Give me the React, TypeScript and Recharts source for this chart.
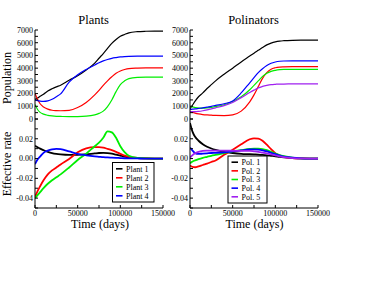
import React from 'react';
import { LineChart, Line, XAxis, YAxis } from 'recharts';

const times = [0, 3000, 6000, 10000, 15000, 20000, 25000, 30000, 40000, 50000, 60000, 70000, 75000, 80000, 85000, 90000, 95000, 100000, 105000, 110000, 120000, 130000, 140000, 150000];

const plantNames = ['Plant 1', 'Plant 2', 'Plant 3', 'Plant 4'];
const polNames = ['Pol. 1', 'Pol. 2', 'Pol. 3', 'Pol. 4', 'Pol. 5'];
const plantColors = ['#000000', '#ff0000', '#00ee00', '#0000ff'];
const polColors = ['#000000', '#ff0000', '#00ee00', '#0000ff', '#a020f0'];

const plant1Pop = [1550, 1650, 1780, 1950, 2200, 2380, 2530, 2660, 3050, 3400, 3850, 4400, 4780, 5150, 5550, 5950, 6250, 6500, 6650, 6780, 6870, 6900, 6910, 6910];
const plant2Pop = [2000, 1550, 1200, 950, 780, 690, 660, 650, 680, 900, 1300, 1900, 2250, 2650, 3000, 3320, 3600, 3780, 3890, 3960, 4000, 4020, 4020, 4020];
const plant3Pop = [1150, 750, 520, 380, 290, 240, 210, 200, 185, 190, 220, 330, 440, 620, 980, 1500, 2150, 2700, 3000, 3180, 3280, 3300, 3300, 3300];
const plant4Pop = [1500, 1440, 1400, 1380, 1420, 1550, 1750, 1980, 2900, 3480, 3900, 4250, 4430, 4570, 4680, 4770, 4830, 4880, 4910, 4930, 4940, 4940, 4940, 4940];

const pol1Pop = [800, 1100, 1400, 1750, 2050, 2400, 2700, 3000, 3520, 4000, 4490, 4950, 5180, 5400, 5620, 5830, 5970, 6070, 6130, 6160, 6190, 6200, 6200, 6200];
const pol2Pop = [600, 520, 460, 400, 350, 320, 300, 280, 270, 330, 620, 1350, 1900, 2550, 3200, 3650, 3920, 4030, 4080, 4100, 4120, 4120, 4120, 4120];
const pol3Pop = [1000, 950, 900, 860, 860, 880, 920, 980, 1120, 1380, 1750, 2300, 2650, 3000, 3350, 3600, 3750, 3830, 3880, 3900, 3910, 3910, 3910, 3910];
const pol4Pop = [750, 770, 790, 830, 880, 940, 1000, 1070, 1200, 1420, 2050, 2850, 3250, 3650, 3950, 4200, 4380, 4480, 4540, 4560, 4570, 4570, 4570, 4570];
const pol5Pop = [580, 580, 580, 600, 650, 720, 800, 880, 1050, 1300, 1680, 2080, 2270, 2450, 2560, 2640, 2700, 2730, 2750, 2750, 2760, 2760, 2760, 2760];

const plant1Rate = [0.013, 0.0115, 0.010, 0.0085, 0.0068, 0.0055, 0.0047, 0.0042, 0.0037, 0.0037, 0.0043, 0.0052, 0.0056, 0.0057, 0.0055, 0.005, 0.004, 0.003, 0.002, 0.0012, 0.0004, 0.0001, 0, 0];
const plant2Rate = [-0.039, -0.033, -0.028, -0.022, -0.016, -0.012, -0.009, -0.006, -0.0005, 0.0063, 0.0104, 0.0115, 0.0115, 0.011, 0.0098, 0.0085, 0.0068, 0.0048, 0.003, 0.0018, 0.0006, 0.0002, 0, 0];
const plant3Rate = [-0.040, -0.037, -0.034, -0.030, -0.0255, -0.022, -0.019, -0.016, -0.009, -0.0015, 0.005, 0.0125, 0.016, 0.021, 0.0275, 0.0265, 0.021, 0.0125, 0.0065, 0.0028, 0.0006, 0.0001, 0, 0];
const plant4Rate = [-0.0057, -0.001, 0.002, 0.0058, 0.008, 0.0093, 0.0098, 0.0095, 0.0072, 0.0048, 0.0033, 0.0022, 0.0018, 0.0014, 0.0011, 0.0009, 0.0007, 0.0005, 0.0003, 0.0002, 0.0001, 0, 0, 0];

const pol1Rate = [0.036, 0.027, 0.022, 0.018, 0.0145, 0.012, 0.0102, 0.0088, 0.0068, 0.0056, 0.0048, 0.0044, 0.0042, 0.004, 0.0037, 0.0033, 0.0028, 0.0023, 0.0017, 0.0012, 0.0005, 0.0001, 0, 0];
const pol2Rate = [-0.007, -0.0085, -0.0088, -0.008, -0.0065, -0.0052, -0.0035, -0.002, 0.0038, 0.009, 0.0145, 0.0195, 0.0205, 0.0202, 0.018, 0.014, 0.0095, 0.0054, 0.0032, 0.0018, 0.0005, 0.0001, 0, 0];
const pol3Rate = [-0.0047, -0.003, -0.0018, -0.0005, 0.0008, 0.0018, 0.0028, 0.0037, 0.0055, 0.0072, 0.0085, 0.0097, 0.0101, 0.01, 0.0096, 0.0085, 0.0068, 0.005, 0.0035, 0.0024, 0.0009, 0.0002, 0, 0];
const pol4Rate = [0.011, 0.008, 0.0055, 0.0047, 0.005, 0.0053, 0.0056, 0.0058, 0.0063, 0.0072, 0.0082, 0.0092, 0.0093, 0.009, 0.0083, 0.0072, 0.0058, 0.0044, 0.003, 0.002, 0.0008, 0.0002, 0, 0];
const pol5Rate = [0.001, 0.0035, 0.0054, 0.0068, 0.0077, 0.008, 0.0081, 0.0081, 0.008, 0.0079, 0.0078, 0.0077, 0.0073, 0.0068, 0.006, 0.0052, 0.0042, 0.0032, 0.0022, 0.0014, 0.0005, 0.0001, 0, 0];

const xTicks = [0, 25000, 50000, 75000, 100000, 125000, 150000];
const popTicks = [0, 500, 1000, 1500, 2000, 2500, 3000, 3500, 4000, 4500, 5000, 5500, 6000, 6500, 7000];
const rateTicks = [-0.05, -0.04, -0.03, -0.02, -0.01, 0, 0.01, 0.02, 0.03, 0.04];

const FONT = '"Liberation Serif", "Times New Roman", serif';

function buildData(series: number[][]) {
  return times.map((t, i) => {
    const row: Record<string, number> = { t };
    series.forEach((s, k) => { row['s' + k] = s[i]; });
    return row;
  });
}

const plantPopData = buildData([plant1Pop, plant2Pop, plant3Pop, plant4Pop]);
const polPopData = buildData([pol1Pop, pol2Pop, pol3Pop, pol4Pop, pol5Pop]);
const plantRateData = buildData([plant1Rate, plant2Rate, plant3Rate, plant4Rate]);
const polRateData = buildData([pol1Rate, pol2Rate, pol3Rate, pol4Rate, pol5Rate]);

const fmtX = (v: number) => (v % 50000 === 0 ? String(v) : '');
const fmtPop = (v: number) => (v % 1000 === 0 ? String(v) : '');
const fmtRate = (v: number) => {
  const k = Math.round(v * 100);
  if (k % 2 !== 0 || k <= -5 || k >= 4) return '';
  return (k / 100).toFixed(2);
};
const blank = () => '';

type PanelProps = {
  left: number;
  top: number;
  height: number;
  marginTop: number;
  marginBottom: number;
  data: Record<string, number>[];
  colors: string[];
  yDomain: [number, number];
  yTicks: number[];
  yFmt: (v: number) => string;
  xLabels: boolean;
  strokeWidth: number;
};

function Panel(p: PanelProps) {
  const tickStyle = { fontSize: 8, fontFamily: FONT, fill: '#000', stroke: 'none' };
  const axisLine = { stroke: '#000', strokeWidth: 1 };
  return (
    <div style={{ position: 'absolute', left: p.left, top: p.top }}>
      <LineChart
        width={185}
        height={p.height}
        data={p.data}
        margin={{ top: p.marginTop, right: 22, left: 0, bottom: p.marginBottom }}
      >
        <XAxis
          xAxisId="b"
          dataKey="t"
          type="number"
          domain={[0, 150000]}
          ticks={xTicks}
          interval={0}
          orientation="bottom"
          height={p.xLabels ? 12 : 0}
          tickSize={-3}
          tickMargin={5}
          tickFormatter={p.xLabels ? fmtX : blank}
          tick={tickStyle}
          axisLine={axisLine}
          tickLine={axisLine}
          allowDataOverflow
        />
        <XAxis
          xAxisId="t"
          dataKey="t"
          type="number"
          domain={[0, 150000]}
          ticks={xTicks}
          interval={0}
          orientation="top"
          height={0}
          tickSize={-3}
          tickFormatter={blank}
          tick={tickStyle}
          axisLine={axisLine}
          tickLine={axisLine}
          allowDataOverflow
        />
        <YAxis
          yAxisId="l"
          type="number"
          domain={p.yDomain}
          ticks={p.yTicks}
          interval={0}
          width={35}
          tickSize={-3}
          tickMargin={5}
          tickFormatter={p.yFmt}
          tick={tickStyle}
          axisLine={axisLine}
          tickLine={axisLine}
          allowDataOverflow
        />
        <YAxis
          yAxisId="r"
          orientation="right"
          type="number"
          domain={p.yDomain}
          ticks={p.yTicks}
          interval={0}
          width={0}
          tickSize={-3}
          tickFormatter={blank}
          tick={tickStyle}
          axisLine={axisLine}
          tickLine={axisLine}
          allowDataOverflow
        />
        {p.colors.map((c, k) => (
          <Line
            key={k}
            xAxisId="b"
            yAxisId="l"
            dataKey={'s' + k}
            type="monotone"
            stroke={c}
            strokeWidth={p.strokeWidth}
            dot={false}
            isAnimationActive={false}
          />
        ))}
      </LineChart>
    </div>
  );
}

function LegendBox({ x, y, w, h, names, colors, y0, step }: { x: number; y: number; w: number; h: number; names: string[]; colors: string[]; y0: number; step: number }) {
  return (
    <g>
      <rect x={x} y={y} width={w} height={h} fill="#fff" stroke="#000" strokeWidth={1} />
      {names.map((n, i) => (
        <g key={n}>
          <line x1={x + 3.5} x2={x + 10} y1={y0 + i * step} y2={y0 + i * step} stroke={colors[i]} strokeWidth={1.6} />
          <text x={x + 13.5} y={y0 + i * step} dy="0.35em" fontSize={8} fontFamily={FONT} fill="#000">{n}</text>
        </g>
      ))}
    </g>
  );
}

export default function App() {
  const labelStyle = { fontFamily: FONT, fill: '#000' } as const;
  return (
    <div style={{ position: 'absolute', left: 0, top: 0, width: 385, height: 298 }}>
      <Panel left={0} top={110} height={110} marginTop={9} marginBottom={0} data={plantRateData} colors={plantColors} yDomain={[-0.05, 0.04]} yTicks={rateTicks} yFmt={fmtRate} xLabels={true} strokeWidth={1.8} />
      <Panel left={155} top={110} height={110} marginTop={9} marginBottom={0} data={polRateData} colors={polColors} yDomain={[-0.05, 0.04]} yTicks={rateTicks} yFmt={fmtRate} xLabels={true} strokeWidth={1.8} />
      <Panel left={0} top={0} height={125} marginTop={30} marginBottom={6} data={plantPopData} colors={plantColors} yDomain={[0, 7000]} yTicks={popTicks} yFmt={fmtPop} xLabels={false} strokeWidth={1.2} />
      <Panel left={155} top={0} height={125} marginTop={30} marginBottom={6} data={polPopData} colors={polColors} yDomain={[0, 7000]} yTicks={popTicks} yFmt={fmtPop} xLabels={false} strokeWidth={1.2} />
      <svg width={385} height={298} style={{ position: 'absolute', left: 0, top: 0, pointerEvents: 'none' }}>
        <text x={93.5} y={24} textAnchor="middle" fontSize={12.5} {...labelStyle}>Plants</text>
        <text x={253.5} y={24} textAnchor="middle" fontSize={12.5} {...labelStyle}>Polinators</text>
        <text x={11} y={78} textAnchor="middle" fontSize={12} transform="rotate(-90 11 78)" {...labelStyle}>Population</text>
        <text x={11} y={164} textAnchor="middle" fontSize={12} transform="rotate(-90 11 164)" {...labelStyle}>Effective rate</text>
        <text x={100} y={227.5} textAnchor="middle" fontSize={12} {...labelStyle}>Time (days)</text>
        <text x={254.5} y={227.5} textAnchor="middle" fontSize={12} {...labelStyle}>Time (days)</text>
        <LegendBox x={112.5} y={162.5} w={41.5} h={39.5} names={plantNames} colors={plantColors} y0={168.8} step={9} />
        <LegendBox x={228} y={156} w={39} h={47} names={polNames} colors={polColors} y0={162.2} step={8.65} />
      </svg>
    </div>
  );
}
